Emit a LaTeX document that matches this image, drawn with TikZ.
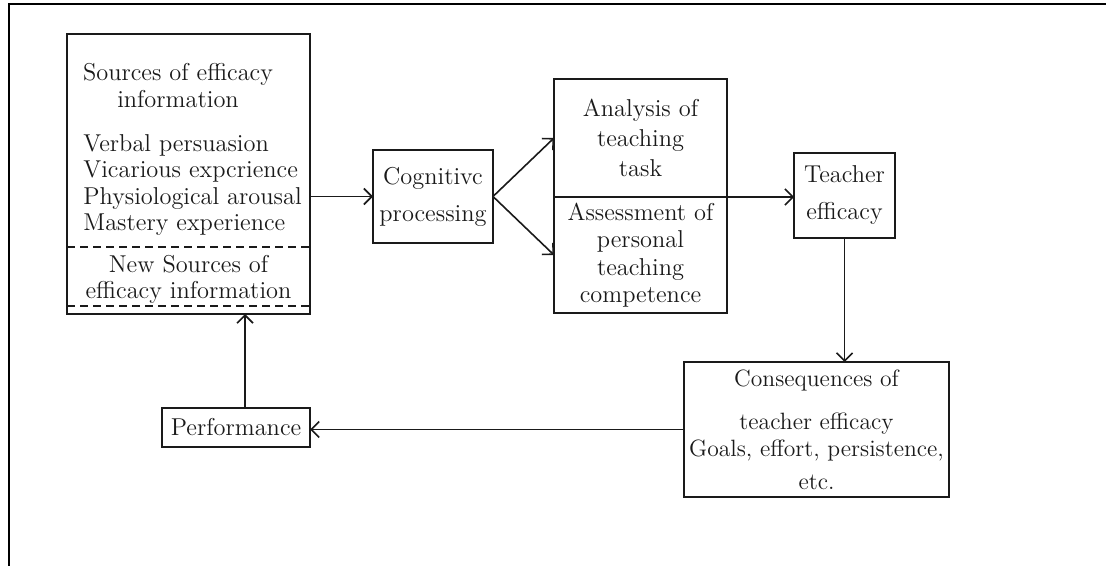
\documentclass[tikz,border=0pt]{standalone}
\usetikzlibrary{arrows.meta}
\definecolor{ink}{HTML}{1A1A1A}
\begin{document}
\begin{tikzpicture}[x=0.5pt,y=-0.5pt,
  box/.style={draw=ink, line width=0.9pt, rectangle, inner sep=0pt, outer sep=0pt},
  txt/.style={font=\fontsize{12.2}{13.3}\selectfont, text=ink, inner sep=0pt, align=center},
  link/.style={draw=ink, line width=0.8pt, -{Straight Barb[length=4pt,width=8pt,line width=0.8pt]}},
  sep/.style={draw=ink, line width=0.9pt, dash pattern=on 4pt off 2.5pt}]

  % page and outer frame (only its top and left edges fall on the page)
  \useasboundingbox (0,0) rectangle (1106,566);
  \fill[white] (0,0) rectangle (1106,566);
  \begin{scope}
    \clip (0,0) rectangle (1106,566);
    \draw[black, line width=1pt] (8.5,4.5) rectangle (1140,600);
  \end{scope}

  % sources of efficacy information
  \node[box, minimum width=121.5pt, minimum height=140pt] (src) at (188.5,174) {};
  \node[txt] (srchead) at (178,85.5) {Sources of efficacy\\information};
  \node[txt, align=left, anchor=west] (srclist) at (83,185)
    {Verbal persuasion\\Vicarious expcrience\\Physiological arousal\\Mastery experience};
  \node[txt] (srcnew) at (188.5,279.5) {New Sources of\\efficacy information};
  \coordinate (cutA) at (0,247);
  \coordinate (cutB) at (0,306);
  \draw[sep] (src.west |- cutA) -- (src.east |- cutA);
  \draw[sep] (src.west |- cutB) -- (src.east |- cutB);

  % processing chain
  \node[box, txt, minimum width=60pt, minimum height=46.5pt,
        font=\fontsize{12.2}{18.5}\selectfont] (cog) at (433,196.5) {Cognitivc\\processing};
  \node[box, txt, minimum width=86.5pt, minimum height=59pt,
        font=\fontsize{12.2}{15}\selectfont] (ana) at (640.5,138) {Analysis of\\teaching\\task};
  \node[box, txt, minimum width=86.5pt, minimum height=58pt,
        font=\fontsize{12.2}{13.7}\selectfont] (ass) at (640.5,255)
        {Assessment of\\personal\\teaching\\competence};
  \node[box, txt, minimum width=50.5pt, minimum height=42.5pt,
        font=\fontsize{12.2}{18.5}\selectfont] (teach) at (844.5,195.5) {Teacher\\efficacy};

  % consequences and feedback
  \node[box, txt, minimum width=132.5pt, minimum height=67.5pt,
        font=\fontsize{11.8}{15}\selectfont] (cons) at (816.5,429.5)
        {Consequences of\\[6.5pt]teacher efficacy\\[-1.5pt]Goals, effort, persistence,\\[1.5pt]etc.};
  \node[box, txt, minimum width=74pt, minimum height=19.5pt] (perf) at (236,427.5) {Performance};

  % connectors
  \draw[link] (src.east |- cog.west) -- (cog.west);
  \draw[link] (cog.east) -- (ana.west);
  \draw[link] (cog.east) -- (ass.west);
  \draw[link] (ana.south east) -- (ana.south east -| teach.west);
  \draw[link] (teach.south) -- (teach.south |- cons.north);
  \draw[link] (cons.west) -- (cons.west -| perf.east);
  \coordinate (perfup) at ([xshift=4.5pt]perf.north);
  \draw[link] (perfup) -- (perfup |- src.south);
\end{tikzpicture}
\end{document}
